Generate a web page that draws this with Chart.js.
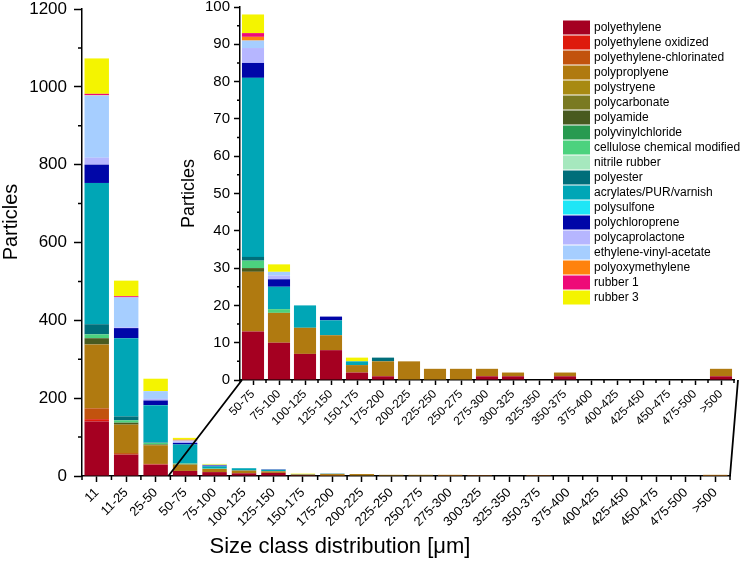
<!DOCTYPE html>
<html>
<head>
<meta charset="utf-8">
<script src="https://cdn.jsdelivr.net/npm/chart.js@4"></script>
<style>
  html, body { margin: 0; padding: 0; background: #fff; }
  #wrap { position: relative; width: 742px; height: 577px; }
  #mainChart { position: absolute; left: 0; top: 0; }
  #insetChart { position: absolute; left: 170px; top: 0; }
</style>
</head>
<body>
<div id="wrap">
  <canvas id="mainChart" width="742" height="577"></canvas>
  <canvas id="insetChart" width="572" height="440"></canvas>
</div>
<script>
// size classes (µm)
const sizeClasses = ['11', '11-25', '25-50', '50-75', '75-100', '100-125', '125-150', '150-175', '175-200',
    '200-225', '225-250', '250-275', '275-300', '300-325', '325-350', '350-375', '375-400', '400-425',
    '425-450', '450-475', '475-500', '>500'];

// particles per size class, one array per polymer
const polyethylene     = [140, 55, 29, 13, 10, 7, 8, 2, 1, 0, 0, 0, 1, 1, 0, 1, 0, 0, 0, 0, 0, 1];
const peOxidized       = [6, 0, 1, 0, 0, 0, 0, 0, 0, 0, 0, 0, 0, 0, 0, 0, 0, 0, 0, 0, 0, 0];
const peChlorinated    = [28, 4, 1, 0, 0, 0, 0, 0, 0, 0, 0, 0, 0, 0, 0, 0, 0, 0, 0, 0, 0, 0];
const polypropylene    = [164, 73, 48, 16, 8, 7, 4, 2, 4, 5, 3, 3, 2, 1, 0, 1, 0, 0, 0, 0, 0, 2];
const polystyrene      = [0, 0, 0, 0, 0, 0, 0, 0, 0, 0, 0, 0, 0, 0, 0, 0, 0, 0, 0, 0, 0, 0];
const polycarbonate    = [0, 0, 0, 0, 0, 0, 0, 0, 0, 0, 0, 0, 0, 0, 0, 0, 0, 0, 0, 0, 0, 0];
const polyamide        = [16, 5, 2, 1, 0, 0, 0, 0, 0, 0, 0, 0, 0, 0, 0, 0, 0, 0, 0, 0, 0, 0];
const pvc              = [0, 0, 0, 0, 0, 0, 0, 0, 0, 0, 0, 0, 0, 0, 0, 0, 0, 0, 0, 0, 0, 0];
const cellulose        = [10, 6, 4, 2, 1, 0, 0, 0, 0, 0, 0, 0, 0, 0, 0, 0, 0, 0, 0, 0, 0, 0];
const nitrileRubber    = [0, 0, 0, 0, 0, 0, 0, 0, 0, 0, 0, 0, 0, 0, 0, 0, 0, 0, 0, 0, 0, 0];
const polyester        = [26, 10, 1, 1, 0, 0, 0, 0, 1, 0, 0, 0, 0, 0, 0, 0, 0, 0, 0, 0, 0, 0];
const acrylates        = [363, 201, 96, 48, 6, 6, 4, 1, 0, 0, 0, 0, 0, 0, 0, 0, 0, 0, 0, 0, 0, 0];
const polysulfone      = [0, 0, 0, 0, 0, 0, 0, 0, 0, 0, 0, 0, 0, 0, 0, 0, 0, 0, 0, 0, 0, 0];
const polychloroprene  = [47, 26, 12, 4, 2, 0, 1, 0, 0, 0, 0, 0, 0, 0, 0, 0, 0, 0, 0, 0, 0, 0];
const polycaprolactone = [18, 2, 4, 4, 1, 0, 0, 0, 0, 0, 0, 0, 0, 0, 0, 0, 0, 0, 0, 0, 0, 0];
const eva              = [160, 77, 20, 2, 1, 0, 0, 0, 0, 0, 0, 0, 0, 0, 0, 0, 0, 0, 0, 0, 0, 0];
const pom              = [1, 0, 0, 1, 0, 0, 0, 0, 0, 0, 0, 0, 0, 0, 0, 0, 0, 0, 0, 0, 0, 0];
const rubber1          = [3, 3, 0, 1, 0, 0, 0, 0, 0, 0, 0, 0, 0, 0, 0, 0, 0, 0, 0, 0, 0, 0];
const rubber3          = [91, 40, 32, 5, 2, 0, 0, 1, 0, 0, 0, 0, 0, 0, 0, 0, 0, 0, 0, 0, 0, 0];

const polymerNames = ['polyethylene', 'polyethylene oxidized', 'polyethylene-chlorinated', 'polyproplyene',
    'polystryene', 'polycarbonate', 'polyamide', 'polyvinylchloride', 'cellulose chemical modified',
    'nitrile rubber', 'polyester', 'acrylates/PUR/varnish', 'polysulfone', 'polychloroprene',
    'polycaprolactone', 'ethylene-vinyl-acetate', 'polyoxymethylene', 'rubber 1', 'rubber 3'];
const polymerValues = [polyethylene, peOxidized, peChlorinated, polypropylene, polystyrene, polycarbonate,
    polyamide, pvc, cellulose, nitrileRubber, polyester, acrylates, polysulfone, polychloroprene,
    polycaprolactone, eva, pom, rubber1, rubber3];
const polymerColors = ['#A50021', '#DE1A0C', '#C2530E', '#B07A10', '#A88A12', '#7A7A22', '#485A20',
    '#289A50', '#4CD27E', '#A6E8BE', '#006E7A', '#00A6B6', '#1EE6F6', '#0006A8', '#B6B6FF', '#A6CEFF',
    '#FF820E', '#EE0A78', '#F4F400'];

const insetStart = 3; // inset zooms in from 50-75 onwards

const FONT = "'Liberation Sans', Arial, sans-serif";
Chart.defaults.font.family = FONT;
Chart.defaults.color = '#000';

function makeDatasets(from, barPct) {
    return polymerNames.map((name, i) => ({
        label: name,
        data: polymerValues[i].slice(from),
        backgroundColor: polymerColors[i],
        borderWidth: 0,
        barPercentage: barPct,
        categoryPercentage: 1.0
    }));
}

// short ticks between the labelled ones
const minorTicks = {
    id: 'minorTicks',
    afterDraw(chart, args, opts) {
        const ctx = chart.ctx;
        const xs = chart.scales.x, ys = chart.scales.y;
        const area = chart.chartArea;
        ctx.save();
        ctx.strokeStyle = '#000';
        ctx.lineWidth = 1.5;
        ctx.beginPath();
        for (let v = opts.yStep / 2; v < ys.max; v += opts.yStep) {
            const py = ys.getPixelForValue(v);
            ctx.moveTo(area.left - opts.len, py);
            ctx.lineTo(area.left, py);
        }
        for (let i = 0; i <= chart.data.labels.length; i++) {
            const px = xs.getPixelForValue(i - 0.5);
            ctx.moveTo(px, area.bottom);
            ctx.lineTo(px, area.bottom + opts.len);
        }
        ctx.stroke();
        ctx.restore();
    }
};

// legend drawn inside the inset
const insetLegend = {
    id: 'insetLegend',
    afterDraw(chart) {
        const ctx = chart.ctx;
        ctx.save();
        ctx.font = '12px ' + FONT;
        ctx.textBaseline = 'middle';
        ctx.textAlign = 'left';
        chart.data.datasets.forEach((ds, i) => {
            const yc = 27.5 + i * 15;
            ctx.fillStyle = ds.backgroundColor;
            ctx.fillRect(393, yc - 7, 27, 14);
            ctx.fillStyle = '#000';
            ctx.fillText(ds.label, 424, yc);
        });
        ctx.restore();
    }
};

const insetChart = new Chart(document.getElementById('insetChart'), {
    type: 'bar',
    data: { labels: sizeClasses.slice(insetStart), datasets: makeDatasets(insetStart, 0.85) },
    options: {
        responsive: false,
        animation: false,
        layout: { padding: { top: 0, right: 8, left: 0, bottom: 0 } },
        plugins: {
            legend: { display: false },
            tooltip: { enabled: false },
            minorTicks: { yStep: 10, len: 3 }
        },
        scales: {
            x: {
                stacked: true,
                border: { color: '#000', width: 1.5 },
                grid: { display: true, offset: false, drawOnChartArea: false, tickLength: 5, tickColor: '#000', tickWidth: 1.5 },
                ticks: { autoSkip: false, maxRotation: 45, minRotation: 45, padding: 3, font: { size: 12, lineHeight: 1 } },
                afterFit: s => { s.height = 60; }
            },
            y: {
                stacked: true,
                min: 0, max: 100,
                border: { color: '#000', width: 1.5 },
                grid: { display: true, drawOnChartArea: false, tickLength: 6, tickColor: '#000', tickWidth: 1.5 },
                ticks: { stepSize: 10, padding: 4, font: { size: 15, lineHeight: 1 }, callback: v => v },
                title: { display: true, text: 'Particles', font: { size: 18 }, padding: { top: 8, bottom: 0 } },
                afterFit: s => { s.width = 70; s.paddingTop = 7; }
            }
        }
    },
    plugins: [minorTicks, insetLegend]
});

// axis titles and the two lines that tie the inset to the main axis
const mainExtras = {
    id: 'mainExtras',
    afterDraw(chart) {
        const ctx = chart.ctx;
        const xs = chart.scales.x;
        const area = chart.chartArea;
        const ia = insetChart.chartArea;
        const offX = 170;
        ctx.save();
        ctx.strokeStyle = '#000';
        ctx.lineWidth = 1.8;
        ctx.beginPath();
        ctx.moveTo(xs.getPixelForValue(insetStart - 0.5) - 2, area.bottom);
        ctx.lineTo(ia.left + offX + 2, ia.bottom);
        ctx.moveTo(area.right, area.bottom);
        ctx.lineTo(ia.right + offX + 4, ia.bottom);
        ctx.stroke();
        ctx.font = '22px ' + FONT;
        ctx.fillStyle = '#000';
        ctx.textAlign = 'center';
        ctx.textBaseline = 'middle';
        ctx.fillText('Size class distribution [\u03bcm]', 340, 547);
        ctx.translate(11, 222);
        ctx.rotate(-Math.PI / 2);
        ctx.font = '20px ' + FONT;
        ctx.fillText('Particles', 0, 0);
        ctx.restore();
    }
};

const mainChart = new Chart(document.getElementById('mainChart'), {
    type: 'bar',
    data: { labels: sizeClasses, datasets: makeDatasets(0, 0.83) },
    options: {
        responsive: false,
        animation: false,
        layout: { padding: { top: 0, right: 12, left: 0, bottom: 0 } },
        plugins: {
            legend: { display: false },
            tooltip: { enabled: false },
            minorTicks: { yStep: 200, len: 4 }
        },
        scales: {
            x: {
                stacked: true,
                border: { color: '#000', width: 1.5 },
                grid: { display: true, offset: false, drawOnChartArea: false, tickLength: 6, tickColor: '#000', tickWidth: 1.5 },
                ticks: { autoSkip: false, maxRotation: 45, minRotation: 45, padding: 4, font: { size: 13, lineHeight: 1 } },
                afterFit: s => { s.height = 101; }
            },
            y: {
                stacked: true,
                min: 0, max: 1200,
                border: { color: '#000', width: 1.5 },
                grid: { display: true, drawOnChartArea: false, tickLength: 8, tickColor: '#000', tickWidth: 1.5 },
                ticks: { stepSize: 200, padding: 7, font: { size: 17, lineHeight: 1 }, callback: v => v },
                afterFit: s => { s.width = 82; s.paddingTop = 9; }
            }
        }
    },
    plugins: [minorTicks, mainExtras]
});
</script>
</body>
</html>
